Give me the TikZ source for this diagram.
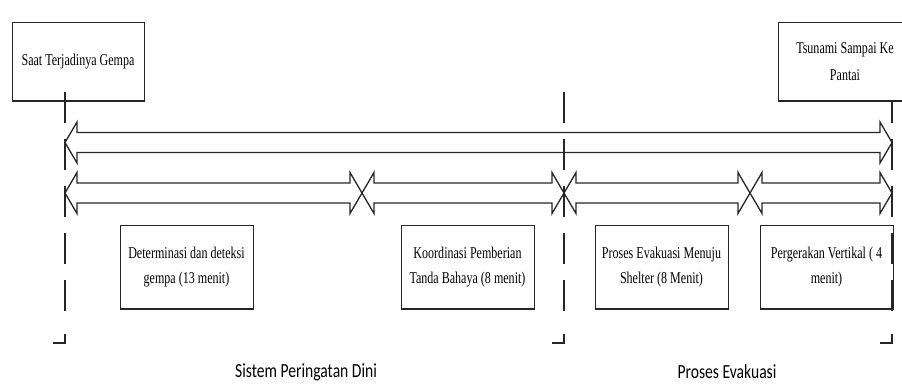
\documentclass[tikz,border=0pt]{standalone}
\usepackage{fontspec}
\newfontfamily\boxfont[FakeStretch=0.73]{Liberation Serif}
\newfontfamily\labfont[FakeStretch=0.78]{Carlito}
\newcommand\darrow[3]{%
  \draw[arrowline] (#1,#3) -- (#1+12,#3-20.5) -- (#1+12,#3-10) -- (#2-12,#3-10) -- (#2-12,#3-20.5) -- (#2,#3)
    -- (#2-12,#3+20.5) -- (#2-12,#3+10) -- (#1+12,#3+10) -- (#1+12,#3+20.5) -- cycle;}
\tikzset{
  arrowline/.style={draw=black!85, line width=1.3pt, line join=miter},
  tbox/.style={draw=black!85, line width=0.9pt, align=center, inner sep=0pt,
    font=\boxfont\fontsize{16.5}{25}\selectfont},
  shadowline/.style={draw=black!85, line width=2pt},
  dashline/.style={draw=black!85, line width=1.2pt, dash pattern=on 31pt off 16pt},
  cornerline/.style={draw=black!85, line width=1.2pt},
  lab/.style={font=\labfont\fontsize{20}{24}\selectfont, inner sep=0pt}
}
\begin{document}
\begin{tikzpicture}[x=1pt,y=-1pt]
\useasboundingbox (0,0) rectangle (902,383);
% top boxes
\node[tbox, minimum width=132pt, minimum height=79pt] (start) at (78,61.5) {Saat Terjadinya Gempa};
\draw[shadowline] (start.south west) -- (start.south east);
% dashed vertical lines
\coordinate (l1) at (65,92);  \coordinate (l2) at (65,318);
\coordinate (m1) at (564,92); \coordinate (m2) at (564,318);
\coordinate (r1) at (892,92); \coordinate (r2) at (892,318);
\draw[dashline] (l1) -- (l2);
\draw[dashline] (m1) -- (m2);
\draw[dashline] (r1) -- (r2);
\coordinate (lc) at (65,343); \coordinate (mc) at (564,343); \coordinate (rc) at (892,343);
\draw[cornerline] ([yshift=9pt]lc) -- (lc) -- ([xshift=-12pt]lc);
\draw[cornerline] ([yshift=9pt]mc) -- (mc) -- ([xshift=-12pt]mc);
\draw[cornerline] ([yshift=9pt]rc) -- (rc) -- ([xshift=-12pt]rc);
\node[tbox, fill=white, minimum width=134pt, minimum height=79pt, font=\boxfont\fontsize{16.5}{27}\selectfont] (end) at (845,61.5) {Tsunami Sampai Ke\\Pantai};
\draw[shadowline] (end.south west) -- (end.south east);
% arrows
\darrow{65}{892}{142.5}
\darrow{65}{362}{193}
\darrow{362}{564}{193}
\darrow{564}{750}{193}
\darrow{750}{892}{193}
% bottom boxes
\node[tbox, minimum width=133pt, minimum height=84pt] (b1) at (186.5,267) {Determinasi dan deteksi\\gempa (13 menit)};
\node[tbox, minimum width=133pt, minimum height=84pt] (b2) at (467.5,267) {Koordinasi Pemberian\\Tanda Bahaya (8 menit)};
\node[tbox, minimum width=133pt, minimum height=84pt] (b3) at (661.5,267) {Proses Evakuasi Menuju\\Shelter (8 Menit)};
\node[tbox, minimum width=133pt, minimum height=84pt] (b4) at (826.5,267) {Pergerakan Vertikal ( 4\\menit)};
\foreach \b in {b1,b2,b3,b4} {\draw[shadowline] (\b.south west) -- (\b.south east);}
% labels
\node[lab] (ews) at (306,372) {Sistem Peringatan Dini};
\node[lab] (evk) at (727,372) {Proses Evakuasi};
\end{tikzpicture}
\end{document}
